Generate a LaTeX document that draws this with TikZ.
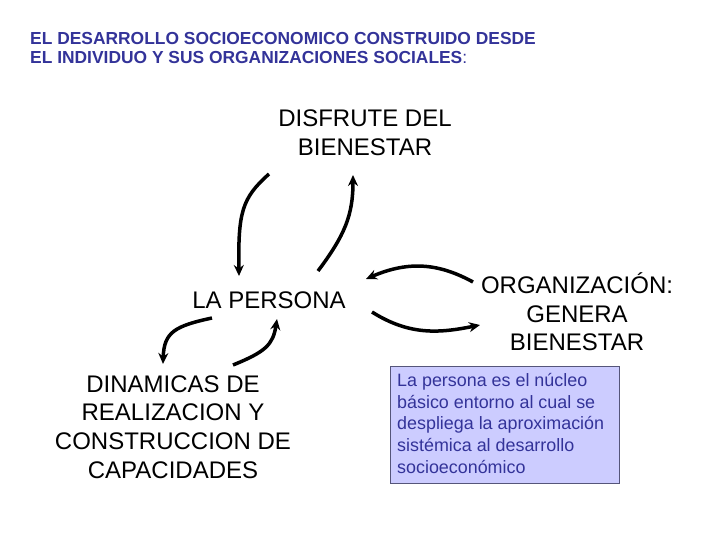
\documentclass[tikz,border=0pt]{standalone}
\usepackage{fontspec}
\setmainfont{Liberation Sans}
\usetikzlibrary{arrows.meta}
\definecolor{titleblue}{HTML}{333399}
\definecolor{boxfill}{HTML}{CCCCFF}
\definecolor{boxline}{HTML}{55557A}
\tikzset{
  big/.style={align=center,inner sep=0pt,font=\fontsize{24}{28.7}\selectfont},
  curvearrow/.style={line width=3.5pt,-{Stealth[length=11pt,width=10pt]}},
  titletext/.style={align=left,inner sep=0pt,anchor=north west,text=titleblue,font=\bfseries\fontsize{17.4}{19.5}\selectfont},
  infobox/.style={draw=boxline,fill=boxfill,line width=0.8pt,anchor=north west,inner sep=0pt,
    minimum width=229pt,minimum height=117pt},
  infotext/.style={anchor=north west,align=left,text=titleblue,inner sep=0pt,
    font=\fontsize{17.9}{21.7}\selectfont}
}
\begin{document}
\begin{tikzpicture}[x=1pt,y=-1pt]
\useasboundingbox (0,0) rectangle (720,540);
\node[titletext] (title) at (30,32) {EL DESARROLLO SOCIOECONOMICO CONSTRUIDO DESDE\\EL INDIVIDUO Y SUS ORGANIZACIONES SOCIALES{\mdseries:}};
\node[big] (disfrute) at (365,133) {DISFRUTE DEL\\BIENESTAR};
\node[big] (persona) at (269,300) {LA PERSONA};
\node[big] (org) at (577,312) {ORGANIZACIÓN:\\GENERA\\BIENESTAR};
\node[big] (dinamicas) at (173,427) {DINAMICAS DE\\REALIZACION Y\\CONSTRUCCION DE\\CAPACIDADES};
\node[infobox] (info) at (390,366) {};
\node[infotext] (infotxt) at (397,373) {La persona es el núcleo\\básico entorno al cual se\\despliega la aproximación\\sistémica al desarrollo\\socioeconómico};
\coordinate (a1s) at (269,174); \coordinate (a1e) at (239,276);
\coordinate (a2s) at (318,271); \coordinate (a2e) at (353,175);
\coordinate (a3s) at (212,318); \coordinate (a3e) at (163,364);
\coordinate (a4s) at (233,365); \coordinate (a4e) at (277,319);
\coordinate (a5s) at (473,282); \coordinate (a5e) at (366,279);
\coordinate (a6s) at (372,312); \coordinate (a6e) at (480,325);
\draw[curvearrow] (a1s) .. controls (242,198) and (238,212) .. (a1e);
\draw[curvearrow] (a2s) .. controls (345,235) and (353,215) .. (a2e);
\draw[curvearrow] (a3s) .. controls (175,326) and (164,332) .. (a3e);
\draw[curvearrow] (a4s) .. controls (265,352) and (273,345) .. (a4e);
\draw[curvearrow] (a5s) .. controls (440,264) and (410,260) .. (a5e);
\draw[curvearrow] (a6s) .. controls (410,336) and (440,333) .. (a6e);
\end{tikzpicture}
\end{document}
